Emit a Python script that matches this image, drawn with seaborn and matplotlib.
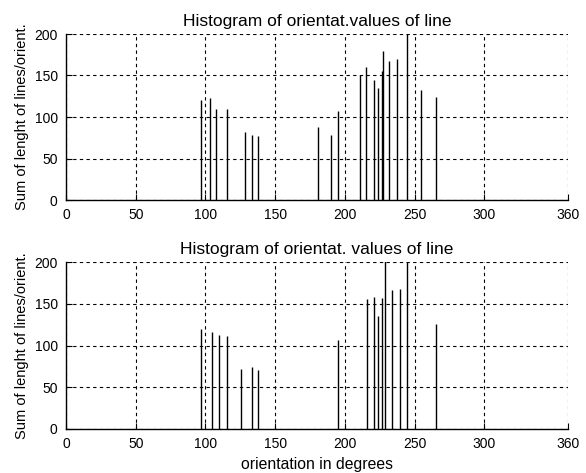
import matplotlib
matplotlib.use("Agg")
import matplotlib.pyplot as plt
import seaborn as sns

sns.set_style("white")
plt.rcParams['font.family'] = ['Liberation Sans', 'DejaVu Sans']
plt.rcParams['text.color'] = 'black'
plt.rcParams['axes.labelcolor'] = 'black'

# Top panel data
top_deg = [96.6, 103.1, 107.6, 115.3, 128.4, 133.4, 137.7, 180.7, 189.7, 195.0,
           210.8, 214.8, 220.6, 224.1, 226.3, 227.2, 231.5, 237.3, 244.7, 254.7, 265.5]
top_val = [120, 123, 110, 110, 82, 78, 77, 88, 78, 107,
           150, 160, 145, 135, 156, 180, 167, 170, 205, 132, 124]

# Bottom panel data
bot_deg = [96.6, 104.7, 109.7, 115.2, 125.2, 133.3, 137.6, 195.0,
           215.5, 220.6, 224.1, 226.3, 228.9, 233.9, 239.6, 244.7, 265.5]
bot_val = [120, 116, 113, 111, 72, 74, 71, 107,
           156, 158, 135, 157, 205, 166, 168, 205, 126]

titles = ["Histogram of orientat.values of line", "Histogram of orientat. values of line"]
ylabel = "Sum of lenght of lines/orient."
xlabel = "orientation in degrees"
xticks = [0, 50, 100, 150, 200, 250, 300, 360]
yticks = [0, 50, 100, 150, 200]

fig = plt.figure(figsize=(5.86, 4.73), dpi=100)
W, H = 586, 473
boxes = [(66, 34, 568, 200), (66, 262, 568, 429)]
data = [(top_deg, top_val), (bot_deg, bot_val)]
fs_tick = 10
for i, ((l, t, r, b), (xd, yd)) in enumerate(zip(boxes, data)):
    ax = fig.add_axes([l / W, 1 - b / H, (r - l) / W, (b - t) / H])
    ax.vlines(xd, 0, yd, colors='black', linewidth=1.0, zorder=3)
    ax.set_xlim(0, 360)
    ax.set_ylim(0, 200)
    ax.set_xticks(xticks)
    ax.set_yticks(yticks)
    ax.tick_params(direction='in', length=4, width=0.8, labelsize=fs_tick, colors='black',
                   bottom=True, left=True)
    ax.tick_params(axis='x', pad=6)
    ax.tick_params(axis='y', pad=6)
    ax.grid(True, color='black', linestyle=(0, (3, 3)), linewidth=0.8)
    for s in ['top', 'right']:
        ax.spines[s].set_visible(False)
    for s in ['left', 'bottom']:
        ax.spines[s].set_color('black')
        ax.spines[s].set_linewidth(1.0)
    ax.set_title(titles[i], fontsize=12.5, pad=6, color='black')
    ax.set_ylabel(ylabel, fontsize=10.5, labelpad=4, color='black')
    if i == 1:
        ax.set_xlabel(xlabel, fontsize=11.3, labelpad=4, color='black')
    ax.set_facecolor('white')

fig.savefig("out.png", dpi=100, facecolor='white')
